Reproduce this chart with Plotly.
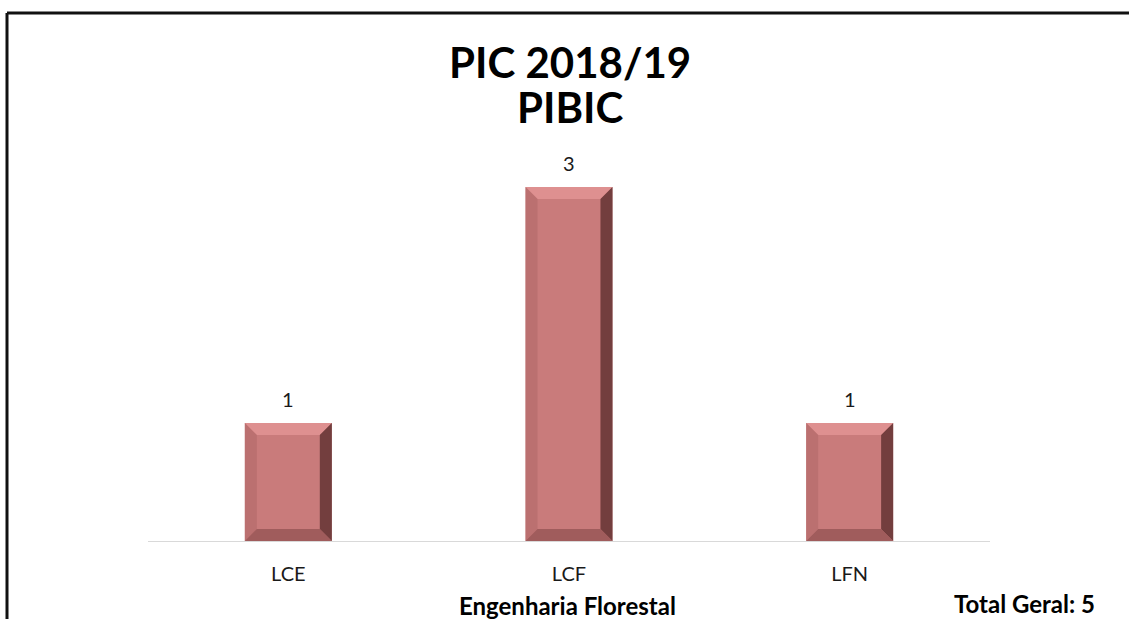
import plotly.graph_objects as go

categories = ["LCE", "LCF", "LFN"]
values = [1, 3, 1]
title_lines = ["PIC 2018/19", "PIBIC"]
x_title = "Engenharia Florestal"
total_label = "Total Geral: 5"

FONT = "Lato, Open Sans, sans-serif"
face = "#C97B7B"
W = 1130
H = 619
ml, mr, mt, mb = 148, 140, 128, 78
yr = [0, 3.5]
bar_w = 0.31

fig = go.Figure()
fig.add_trace(go.Bar(x=list(range(len(categories))), y=values, width=bar_w,
                     marker=dict(color=face, line=dict(width=0)), hoverinfo="skip"))

# bevel polygons derived from the data
dx = 12 / 280
dy = 12 / 118
sides = {"top": ([], [], "rgba(228,150,150,0.8)"),
         "left": ([], [], "rgba(178,105,105,0.6)"),
         "right": ([], [], "rgba(85,42,42,0.75)"),
         "bottom": ([], [], "rgba(145,82,82,0.75)")}
for i, v in enumerate(values):
    l, r = i - bar_w / 2, i + bar_w / 2
    polys = {
        "top": [(l, v), (r, v), (r - dx, v - dy), (l + dx, v - dy), (l, v)],
        "left": [(l, 0), (l, v), (l + dx, v - dy), (l + dx, dy), (l, 0)],
        "right": [(r, 0), (r, v), (r - dx, v - dy), (r - dx, dy), (r, 0)],
        "bottom": [(l, 0), (r, 0), (r - dx, dy), (l + dx, dy), (l, 0)],
    }
    for k, pts in polys.items():
        xs, ys, _ = sides[k]
        xs.extend([p[0] for p in pts] + [None])
        ys.extend([p[1] for p in pts] + [None])
for k, (xs, ys, col) in sides.items():
    fig.add_trace(go.Scatter(x=xs, y=ys, mode="lines", fill="toself", fillcolor=col,
                             line=dict(width=0), hoverinfo="skip", showlegend=False))

for i, v in enumerate(values):
    fig.add_annotation(x=i, y=v, text=str(v), showarrow=False, yanchor="middle", yshift=24,
                       font=dict(family=FONT, size=20, color="#1a1a1a"))

fig.add_annotation(xref="paper", yref="paper", x=(570 - ml) / (W - ml - mr), y=1.0,
                   yanchor="middle", yshift=mt - 62,
                   text="<b>" + title_lines[0] + "</b>", showarrow=False,
                   font=dict(family=FONT, size=42, color="black"))
fig.add_annotation(xref="paper", yref="paper", x=(570 - ml) / (W - ml - mr), y=1.0,
                   yanchor="middle", yshift=mt - 107,
                   text="<b>" + title_lines[1] + "</b>", showarrow=False,
                   font=dict(family=FONT, size=42, color="black"))
fig.add_annotation(xref="paper", yref="paper", x=(567 - ml) / (W - ml - mr), y=0,
                   yanchor="middle", yshift=-(605 - (H - mb)),
                   text="<b>" + x_title + "</b>", showarrow=False,
                   font=dict(family=FONT, size=24, color="black"))
fig.add_annotation(xref="paper", yref="paper", x=(1097 - ml) / (W - ml - mr), xanchor="right",
                   y=0, yanchor="middle", yshift=-(603 - (H - mb)),
                   text="<b>" + total_label + "</b>", showarrow=False,
                   font=dict(family=FONT, size=24, color="black"))

# outer frame (cropped at right and bottom in the reference)
pw = W - ml - mr
ph = H - mt - mb
fig.add_shape(type="line", xref="paper", yref="paper",
              x0=(7 - ml) / pw, x1=(W - 1 - ml) / pw,
              y0=(H - mb - 13) / ph, y1=(H - mb - 13) / ph,
              line=dict(color="#111", width=3))
fig.add_shape(type="line", xref="paper", yref="paper",
              x0=(7 - ml) / pw, x1=(7 - ml) / pw,
              y0=(H - mb - 13) / ph, y1=-(mb) / ph,
              line=dict(color="#111", width=3))

fig.update_layout(
    width=W, height=H, margin=dict(l=ml, r=mr, t=mt, b=mb),
    paper_bgcolor="white", plot_bgcolor="white", showlegend=False,
    xaxis=dict(tickmode="array", tickvals=list(range(len(categories))), ticktext=categories,
               range=[-0.5, 2.5], showgrid=False, zeroline=False, showline=True,
               linecolor="#D9D9D9", linewidth=1, ticks="", ticklen=0, ticklabelstandoff=15,
               tickfont=dict(family=FONT, size=20, color="#1a1a1a")),
    yaxis=dict(range=yr, visible=False, showgrid=False, zeroline=False),
)
fig.write_html("out.html", config={"displayModeBar": False},
               post_script="document.body.style.margin='0';document.body.style.overflow='hidden';")
